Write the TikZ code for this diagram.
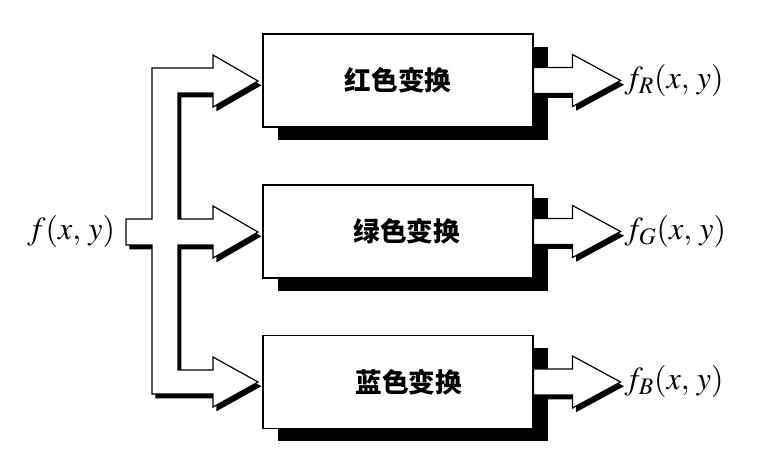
\documentclass[tikz,border=0pt]{standalone}
\usepackage{mathptmx}
\usepackage{fontspec}
\newfontfamily\cjk{Noto Sans CJK SC}
\usetikzlibrary{positioning}

\begin{document}
\begin{tikzpicture}[x=0.75pt, y=-0.75pt,
    box/.style={draw, line width=0.8pt, fill=white,
      minimum width=202.5pt, minimum height=69.75pt,
      font=\cjk\bfseries\fontsize{20}{24}\selectfont,
      preaction={fill=black, transform canvas={xshift=11.25pt, yshift=-9.75pt}}},
    hollow/.style={draw, line width=0.9pt, fill=white, line join=miter,
      preaction={fill=black, transform canvas={xshift=2.6pt, yshift=-3.2pt}}},
    lbl/.style={font=\fontsize{24}{28}\selectfont, inner sep=0pt}]
  \useasboundingbox (0,0) rectangle (764,459);
  % the three transforms
  \node[box] (red) at (398,80.5) {红色变换};
  \node[box] (green) at (398,231.5) {\hspace*{13pt}绿色变换};
  \node[box] (blue) at (398,382) {\hspace*{16pt}蓝色变换};
  % input and splitter
  \coordinate (in) at (126,232);
  \node[lbl, left=8pt of in] (fin) {$f(x,\,y)$};
  \draw[hollow] (126,219) -- (152,219) -- (152,68) -- (213,68) -- (213,55)
    -- (258,81) -- (213,107) -- (213,93) -- (178,93) -- (178,219)
    -- (213,219) -- (213,206) -- (258,232) -- (213,258) -- (213,245)
    -- (178,245) -- (178,370) -- (213,370) -- (213,357) -- (258,382)
    -- (213,407) -- (213,394) -- (152,394) -- (152,245) -- (126,245) -- cycle;
  % outputs
  \foreach \b in {red,green,blue} {%
    \draw[hollow] (\b.east) ++(0,-13) -- ++(39,0) -- ++(0,-13) -- ++(48,26)
      -- ++(-48,26) -- ++(0,-13) -- ++(-39,0) -- cycle;
  }
  \node[lbl, right=68pt of red.east] (fR) {$f_R(x,\,y)$};
  \node[lbl, right=68pt of green.east] (fG) {$f_G(x,\,y)$};
  \node[lbl, right=68pt of blue.east] (fB) {$f_B(x,\,y)$};
\end{tikzpicture}
\end{document}
